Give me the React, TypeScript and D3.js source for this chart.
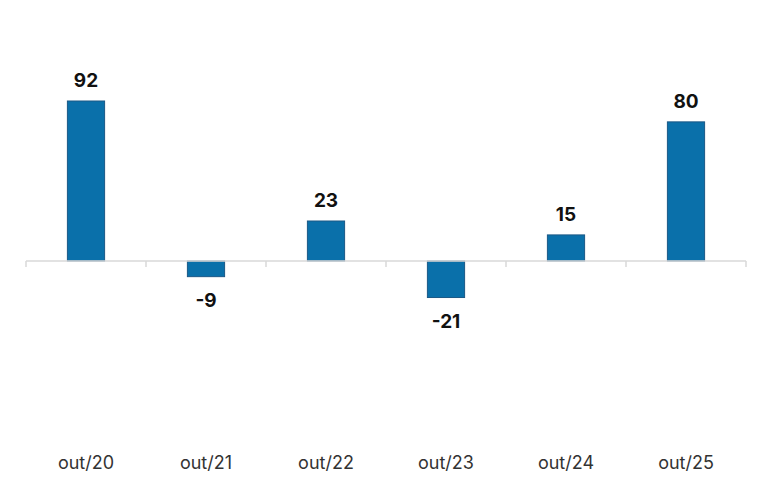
import React from "react";
import * as d3 from "d3";

const categories = ["out/20", "out/21", "out/22", "out/23", "out/24", "out/25"];
const values = [92, -9, 23, -21, 15, 80];

const W = 764;
const H = 477;

export default function App() {
  const x = d3
    .scaleBand<string>()
    .domain(categories)
    .range([26, 746])
    .paddingInner(0.69)
    .paddingOuter(0.345);
  const y = d3.scaleLinear().domain([0, 92]).range([261, 101]);
  const step = x.step();
  const ticks = d3.range(categories.length + 1).map((i) => 26 + i * step);

  return (
    <svg
      width={W}
      height={H}
      style={{ position: "absolute", left: 0, top: 0 }}
      fontFamily="Inter, 'Liberation Sans', Arial, sans-serif"
    >
      <rect width={W} height={H} fill="#fff" />
      {categories.map((c, i) => {
        const v = values[i];
        const y0 = y(0);
        const y1 = y(v);
        const top = Math.min(y0, y1);
        const h = Math.abs(y1 - y0);
        const cx = (x(c) ?? 0) + x.bandwidth() / 2;
        return (
          <g key={c}>
            <rect
              x={x(c)}
              y={top}
              width={x.bandwidth()}
              height={h}
              fill="#0a70aa"
              stroke="#1b5886"
              strokeWidth={1}
            />
            <text
              x={cx}
              y={v >= 0 ? y1 - 14 : y1 + 30}
              textAnchor="middle"
              fontSize={19}
              fontWeight="bold"
              fill="#111"
            >
              {v}
            </text>
            <text x={cx} y={469} textAnchor="middle" fontSize={18} fill="#333">
              {c}
            </text>
          </g>
        );
      })}
      <line x1={26} x2={746} y1={y(0)} y2={y(0)} stroke="#d9d9d9" strokeWidth={1.5} />
      {ticks.map((t, i) => (
        <line key={i} x1={t} x2={t} y1={y(0)} y2={y(0) + 6} stroke="#d9d9d9" strokeWidth={1.5} />
      ))}
    </svg>
  );
}
